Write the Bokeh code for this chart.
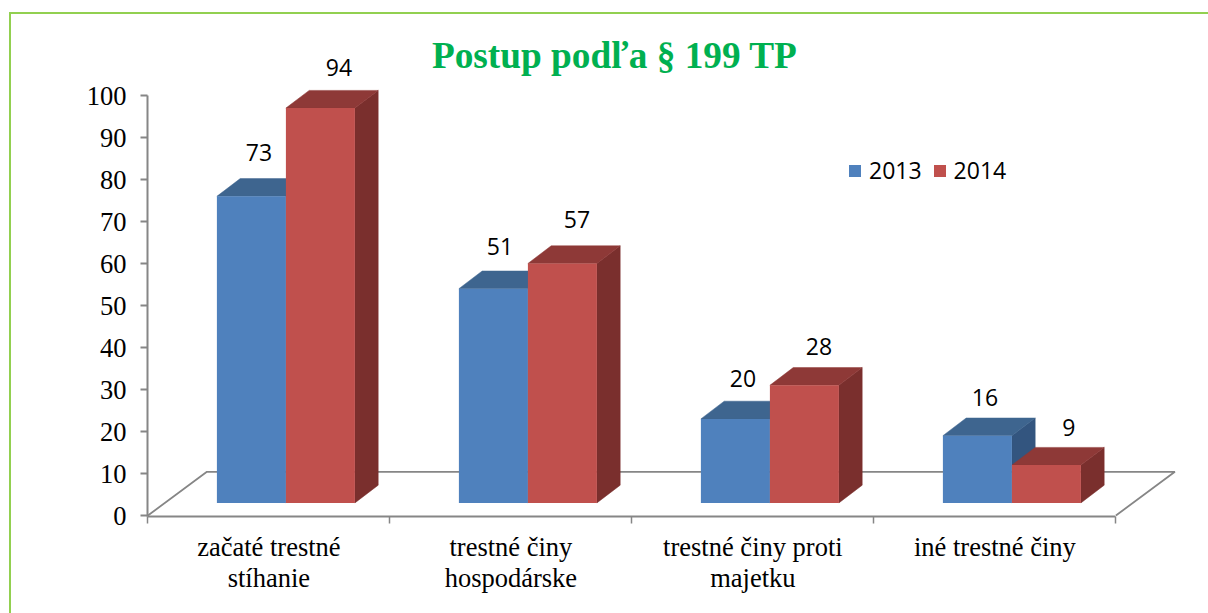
from bokeh.plotting import figure
from bokeh.models import Label, LinearAxis, FixedTicker, Legend, LegendItem, Range1d, InlineStyleSheet
from bokeh.embed import file_html
from bokeh.resources import INLINE

categories = ["začaté trestné\nstíhanie", "trestné činy\nhospodárske", "trestné činy proti\nmajetku", "iné trestné činy"]
series_names = ["2013", "2014"]
values_2013 = [73, 51, 20, 16]
values_2014 = [94, 57, 28, 9]
title_text = "Postup podľa § 199 TP"

# style constants
PX_X = 1 / 242.0      # x data units per pixel
PX_Y = 1 / 4.2        # y data units per pixel
BASE = 3.0            # floor offset of the pseudo-3D columns
BAR_W = 69 * PX_X
BAR_START = 69 * PX_X
DX, DY = 23.3 * PX_X, 17.7 * PX_Y
GRAY = "#868686"
SERIF = "Liberation Serif"
SANS = "Open Sans"
BLUE, BLUE_TOP, BLUE_SIDE = "#4F81BD", "#3E658F", "#33557F"
RED, RED_TOP, RED_SIDE = "#C0504D", "#8E3937", "#7A2F2D"

W, H = 1208, 613
ML, MB = 147, 97
frame_w = W - ML
frame_h = H - MB
x0 = -0.4 * PX_X
y0 = -1 * PX_Y
css = InlineStyleSheet(css=""":host::before {content:""; position:absolute; left:9px; top:12px; width:1199px; height:601px;
  border-left:2px solid #92D050; border-top:2px solid #92D050; box-sizing:border-box; z-index:5; pointer-events:none;}""")
p = figure(width=W, height=H,
           x_range=Range1d(x0, x0 + frame_w * PX_X), y_range=Range1d(y0, y0 + frame_h * PX_Y),
           output_backend="svg", toolbar_location=None, x_axis_location=None, y_axis_location=None,
           min_border_left=ML, min_border_right=0, min_border_top=0, min_border_bottom=MB,
           stylesheets=[css])
p.grid.visible = False
p.outline_line_color = None
p.background_fill_color = "white"
p.border_fill_color = "white"

p.add_layout(Label(x=(432 - 148) * PX_X, y=(515 - 55) * PX_Y, text=title_text, text_font=SERIF, text_font_size="37.3px",
                   text_font_style="bold", text_color="#00B050", text_align="left", text_baseline="middle"))

yax = LinearAxis(ticker=FixedTicker(ticks=list(range(0, 101, 10))), bounds=(y0, 100))
yax.axis_line_color = GRAY; yax.axis_line_width = 2
yax.major_tick_line_color = GRAY; yax.major_tick_line_width = 2
yax.major_tick_out = 7; yax.major_tick_in = 0
yax.minor_tick_line_color = None
yax.major_label_text_font = SERIF; yax.major_label_text_font_size = "26.5px"
yax.major_label_text_color = "#000000"; yax.major_label_standoff = 14
p.add_layout(yax, "left")

centers = [i + 0.5 for i in range(len(categories))]
xax = LinearAxis(ticker=FixedTicker(ticks=centers, minor_ticks=list(range(len(categories) + 1))), bounds=(0, 4))
xax.major_label_overrides = dict(zip(centers, categories))
xax.axis_line_color = GRAY; xax.axis_line_width = 2
xax.major_tick_line_color = None
xax.major_tick_out = 0; xax.major_tick_in = 0
xax.minor_tick_line_color = GRAY; xax.minor_tick_line_width = 1.5
xax.minor_tick_out = 7; xax.minor_tick_in = 0
xax.major_label_text_font = SERIF; xax.major_label_text_font_size = "26.5px"
xax.major_label_text_color = "#000000"; xax.major_label_standoff = 8
xax.major_label_text_line_height = 1.05
p.add_layout(xax, "below")

# floor
fdx, fdy = 59 * PX_X, 10.4
p.line([0, fdx, 4 + fdx, 4], [0, fdy, fdy, 0], line_color=GRAY, line_width=1.8)


def faces(vals, shift):
    left = [i + BAR_START + shift for i in range(len(vals))]
    right = [l + BAR_W for l in left]
    top = [v + BASE for v in vals]
    return left, right, top


def depth(left, right, top, col_top, col_side):
    p.patches([[r, r + DX, r + DX, r] for r in right],
              [[BASE, BASE + DY, t + DY, t] for t in top],
              fill_color=col_side, line_color=col_side, line_width=0.5)
    p.patches([[l, l + DX, r + DX, r] for l, r in zip(left, right)],
              [[t, t + DY, t + DY, t] for t in top],
              fill_color=col_top, line_color=col_top, line_width=0.5)


lb, rb, tb = faces(values_2013, 0)
lr, rr, tr = faces(values_2014, BAR_W)
depth(lb, rb, tb, BLUE_TOP, BLUE_SIDE)
depth(lr, rr, tr, RED_TOP, RED_SIDE)
q1 = p.quad(left=lb, right=rb, bottom=BASE, top=tb, fill_color=BLUE, line_color=None)
q2 = p.quad(left=lr, right=rr, bottom=BASE, top=tr, fill_color=RED, line_color=None)

# data labels (per-label nudges in pixels, as placed in the original)
nudge_x = [[42, 41, 42, 42], [53, 49, 49, 57]]
nudge_y = [[26, 25, 23, 21], [23, 26, 21, 20]]
for s, (left, top, vals) in enumerate([(lb, tb, values_2013), (lr, tr, values_2014)]):
    for i, v in enumerate(vals):
        p.add_layout(Label(x=left[i], y=top[i] + DY, x_offset=nudge_x[s][i], y_offset=nudge_y[s][i], text=str(v),
                           text_align="center", text_baseline="middle", text_font=SANS,
                           text_font_size="23px", text_color="#000000"))

leg = Legend(items=[LegendItem(label=series_names[0], renderers=[q1]), LegendItem(label=series_names[1], renderers=[q2])],
             orientation="horizontal", location=(700, 330), padding=0, margin=0, spacing=10,
             glyph_width=15, glyph_height=15, label_standoff=7, border_line_color=None,
             background_fill_alpha=0, label_text_font=SANS, label_text_font_size="23px", label_text_color="#000000")
p.add_layout(leg, "center")

open("out.html", "w").write(file_html(p, INLINE))
